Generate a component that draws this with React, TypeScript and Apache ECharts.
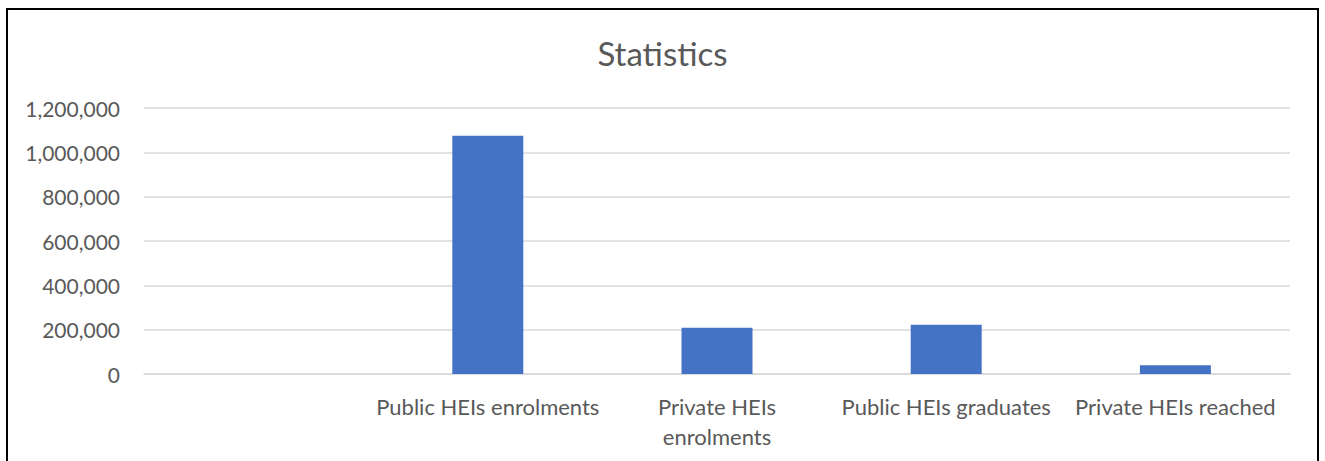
import React, { useEffect, useRef } from "react";
import * as echarts from "echarts";

const categories = [
  "",
  "Public HEIs enrolments",
  "Private HEIs\nenrolments",
  "Public HEIs graduates",
  "Private HEIs reached",
];
const values: (number | null)[] = [null, 1075000, 209000, 222000, 40000];
const yTicks = { min: 0, max: 1200000, interval: 200000 };

export default function App() {
  const ref = useRef<HTMLDivElement>(null);
  useEffect(() => {
    if (!ref.current) return;
    const chart = echarts.init(ref.current, undefined, { renderer: "svg" });
    const font = "Lato, 'Open Sans', sans-serif";
    chart.setOption({
      animation: false,
      backgroundColor: "#ffffff",
      title: {
        text: "Statistics",
        left: "center",
        top: 31,
        textStyle: { fontFamily: font, fontSize: 33, fontWeight: "normal", color: "#595959" },
      },
      grid: { left: 144, right: 35, top: 108, bottom: 87 },
      xAxis: {
        type: "category",
        data: categories,
        axisLine: { lineStyle: { color: "#d9d9d9", width: 1.5 } },
        axisTick: { show: false },
        axisLabel: {
          fontFamily: font,
          fontSize: 22,
          color: "#595959",
          margin: 17,
          lineHeight: 30,
          interval: 0,
        },
      },
      yAxis: {
        type: "value",
        min: yTicks.min,
        max: yTicks.max,
        interval: yTicks.interval,
        axisLine: { show: false },
        axisTick: { show: false },
        splitLine: { lineStyle: { color: "#d9d9d9", width: 1.5 } },
        axisLabel: {
          fontFamily: font,
          fontSize: 21,
          color: "#595959",
          margin: 24,
          formatter: (v: number) => v.toLocaleString("en-US"),
        },
      },
      series: [
        {
          type: "bar",
          data: values,
          barWidth: 71,
          itemStyle: { color: "#4472C4" },
        },
      ],
    });
    return () => chart.dispose();
  }, []);
  return (
    <>
      <div
        ref={ref}
        style={{ position: "fixed", left: 0, top: 0, width: 1325, height: 461 }}
      />
      <div
        style={{
          position: "fixed",
          left: 6,
          top: 8,
          width: 1313,
          height: 470,
          boxSizing: "border-box",
          borderTop: "2px solid #000",
          borderLeft: "2px solid #000",
          borderRight: "2px solid #000",
          pointerEvents: "none",
        }}
      />
    </>
  );
}
